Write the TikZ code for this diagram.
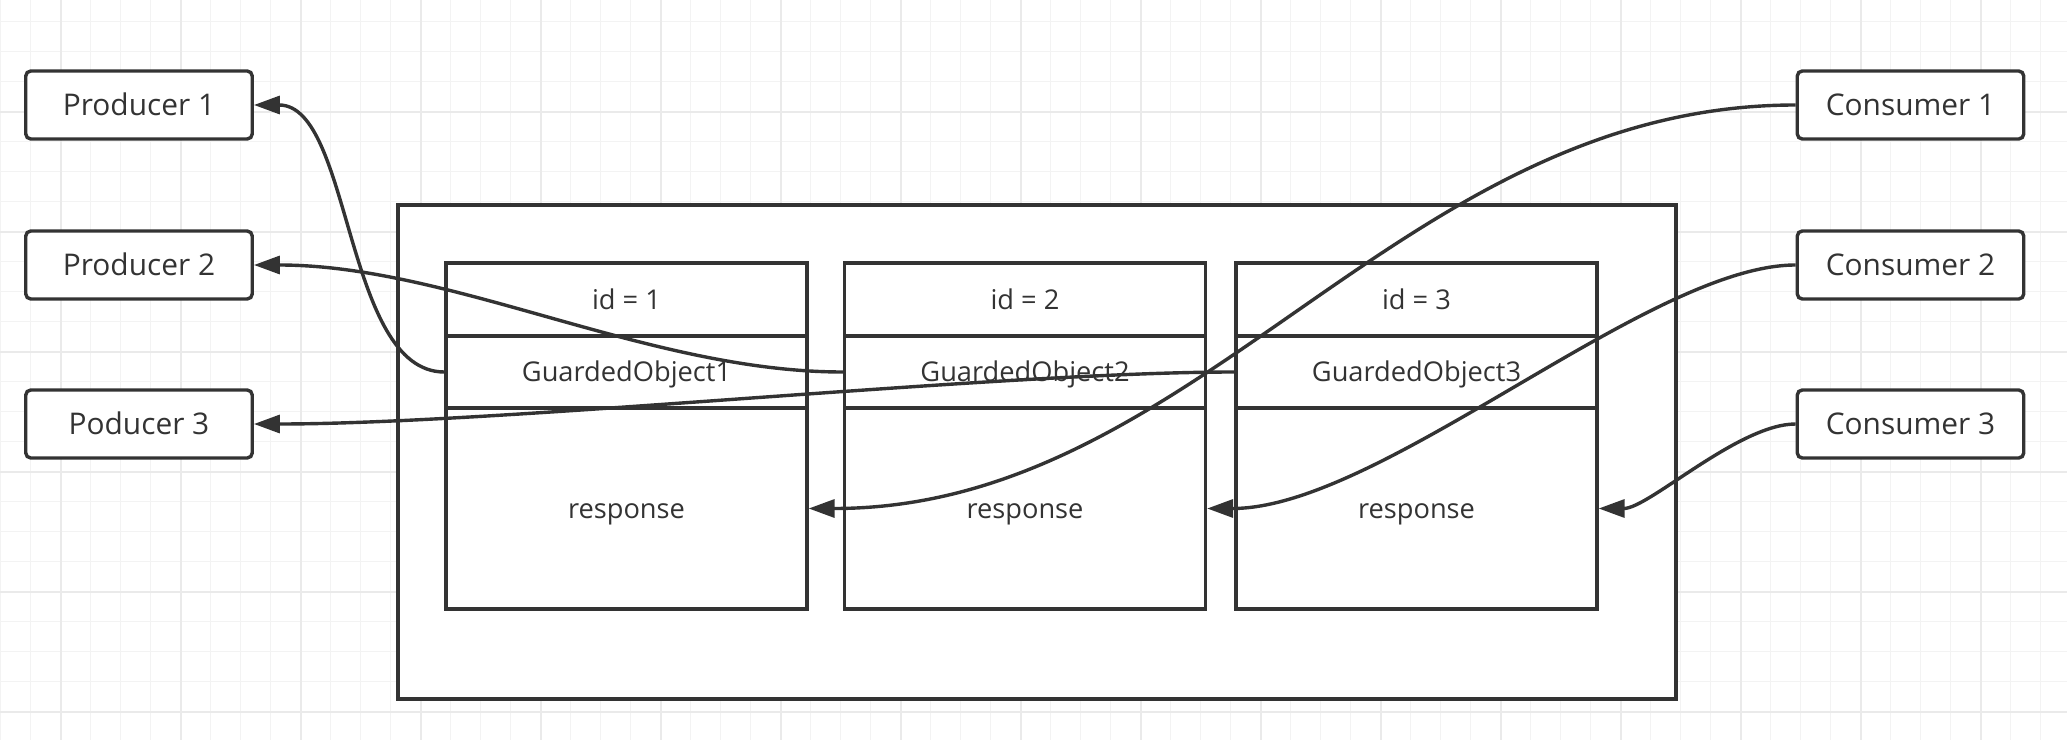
\documentclass[tikz,border=0pt]{standalone}
\usepackage{fontspec}
\setmainfont{Open Sans}
\usetikzlibrary{arrows.meta,calc}
\definecolor{ink}{HTML}{333333}
\definecolor{gridminor}{HTML}{F3F3F3}
\definecolor{gridmajor}{HTML}{EAEAEA}
\begin{document}
\begin{tikzpicture}[x=0.02cm,y=-0.02cm,
  actor/.style={draw=ink,line width=0.068cm,rounded corners=0.1cm,fill=white,
    minimum width=4.53cm,minimum height=1.36cm,inner sep=0pt,text=ink,
    text height=12.1pt,text depth=0pt,font=\fontsize{17}{20}\selectfont},
  cell/.style={draw=ink,line width=0.068cm,fill=white,minimum width=7.22cm,
    inner sep=0pt,text=ink,text height=11.1pt,text depth=0pt,
    font=\fontsize{15.5}{18}\selectfont},
  idrow/.style={cell,minimum height=1.46cm},
  gorow/.style={cell,minimum height=1.44cm},
  resrow/.style={cell,minimum height=4.02cm},
  holder/.style={draw=ink,line width=0.068cm,fill=white,minimum width=25.56cm,
    minimum height=9.88cm,inner sep=0pt},
  link/.style={draw=ink,line width=0.068cm,-{Triangle[length=0.52cm,width=0.36cm]}}
]
\useasboundingbox (0,0) rectangle (2067,740);
\fill[white] (0,0) rectangle (2067,740);
% grid
\foreach \x in {0.7,30.7,...,2067} \draw[gridminor,line width=0.03cm] (\x,0) -- (\x,740);
\foreach \y in {21.7,51.7,...,740} \draw[gridminor,line width=0.03cm] (0,\y) -- (2067,\y);
\foreach \x in {60.7,180.7,...,2067} \draw[gridmajor,line width=0.035cm] (\x,0) -- (\x,740);
\foreach \y in {111.7,231.7,...,740} \draw[gridmajor,line width=0.035cm] (0,\y) -- (2067,\y);

% container
\node[holder] (container) at (1037,452) {};

% cells
\node[idrow]  (id1)  at (626.5,299.5) {id = 1};
\node[gorow]  (go1)  at (626.5,372)   {GuardedObject1};
\node[resrow] (res1) at (626.5,508.5) {response};
\node[idrow]  (id2)  at (1025,299.5)  {id = 2};
\node[gorow]  (go2)  at (1025,372)    {GuardedObject2};
\node[resrow] (res2) at (1025,508.5)  {response};
\node[idrow]  (id3)  at (1416.5,299.5) {id = 3};
\node[gorow]  (go3)  at (1416.5,372)   {GuardedObject3};
\node[resrow] (res3) at (1416.5,508.5) {response};

% actors
\node[actor] (prod1) at (139,105) {Producer 1};
\node[actor] (prod2) at (139,265) {Producer 2};
\node[actor] (prod3) at (139,424) {Poducer 3};
\node[actor] (cons1) at (1910.5,105) {Consumer 1};
\node[actor] (cons2) at (1910.5,265) {Consumer 2};
\node[actor] (cons3) at (1910.5,424) {Consumer 3};

% connectors
\draw[link] (go1.west) .. controls ($(go1.west)+(-100,0)$) and ($(prod1.east)+(98,0)$) .. (prod1.east);
\draw[link] (go2.west) .. controls ($(go2.west)+(-194,0)$) and ($(prod2.east)+(198,0)$) .. (prod2.east);
\draw[link] (go3.west) .. controls ($(go3.west)+(-236,0)$) and ($(prod3.east)+(248,0)$) .. (prod3.east);
\draw[link] (cons1.west) .. controls ($(cons1.west)+(-397,0)$) and ($(res1.east)+(391,0)$) .. (res1.east);
\draw[link] (cons2.west) .. controls ($(cons2.west)+(-147,0)$) and ($(res2.east)+(174,0)$) .. (res2.east);
\draw[link] (cons3.west) .. controls ($(cons3.west)+(-57,0)$) and ($(res3.east)+(50,0)$) .. (res3.east);
\end{tikzpicture}
\end{document}
